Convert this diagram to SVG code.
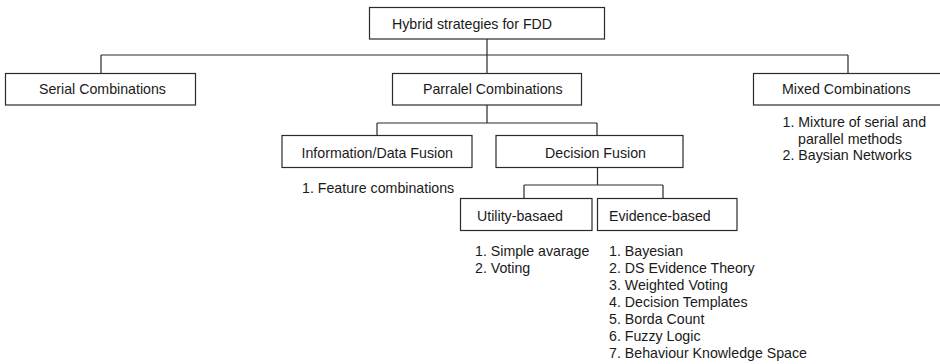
<svg xmlns="http://www.w3.org/2000/svg" width="940" height="364" viewBox="0 0 940 364">
<style>
  .box { fill: #ffffff; stroke: #2a2a2a; stroke-width: 1.2; }
  .lbl { font-family: "Liberation Sans", Arial, sans-serif; font-size: 14.2px; fill: #1a1a1a; }
  .conn { fill: none; stroke: #2a2a2a; stroke-width: 1.2; }
</style>
<rect x="0" y="0" width="940" height="364" fill="#ffffff"/>
<g id="connectors">
  <path class="conn" d="M487,39 V73 M101,55 H848 M101,55 V73 M848,55 V73"/>
  <path class="conn" d="M487,105 V123 M377,123 H597 M377,123 V136 M597,123 V136"/>
  <path class="conn" d="M597.5,168 V185 M524,185 H663 M524,185 V199 M663,185 V199"/>
</g>
<g id="root">
  <rect class="box" x="369.5" y="7.5" width="235" height="31.5"/>
  <text class="lbl" x="392" y="29">Hybrid strategies for FDD</text>
</g>
<g id="serial">
  <rect class="box" x="5.5" y="73.5" width="190" height="31.5"/>
  <text class="lbl" x="39" y="94">Serial Combinations</text>
</g>
<g id="parallel">
  <rect class="box" x="392.5" y="73.5" width="189" height="31.5"/>
  <text class="lbl" x="423" y="94">Parralel Combinations</text>
</g>
<g id="mixed">
  <rect class="box" x="753.5" y="73.5" width="200" height="31.5"/>
  <text class="lbl" x="782" y="94">Mixed Combinations</text>
  <text class="lbl" x="782.5" y="127">1. Mixture of serial and</text>
  <text class="lbl" x="798" y="144">parallel methods</text>
  <text class="lbl" x="782.5" y="160">2. Baysian Networks</text>
</g>
<g id="info">
  <rect class="box" x="282" y="135.5" width="190" height="32"/>
  <text class="lbl" x="301.5" y="157.5">Information/Data Fusion</text>
  <text class="lbl" x="302" y="193">1. Feature combinations</text>
</g>
<g id="decision">
  <rect class="box" x="496" y="135.5" width="187" height="32"/>
  <text class="lbl" x="545" y="157.5">Decision Fusion</text>
</g>
<g id="utility">
  <rect class="box" x="460.5" y="198.5" width="131.5" height="32"/>
  <text class="lbl" x="477" y="221">Utility-basaed</text>
  <text class="lbl" x="475" y="256">1. Simple avarage</text>
  <text class="lbl" x="475" y="273">2. Voting</text>
</g>
<g id="evidence">
  <rect class="box" x="597.5" y="198.5" width="139.5" height="32"/>
  <text class="lbl" x="609" y="221">Evidence-based</text>
  <text class="lbl" x="609" y="256">1. Bayesian</text>
  <text class="lbl" x="609" y="273">2. DS Evidence Theory</text>
  <text class="lbl" x="609" y="290">3. Weighted Voting</text>
  <text class="lbl" x="609" y="307">4. Decision Templates</text>
  <text class="lbl" x="609" y="324">5. Borda Count</text>
  <text class="lbl" x="609" y="341">6. Fuzzy Logic</text>
  <text class="lbl" x="609" y="358">7. Behaviour Knowledge Space</text>
</g>
</svg>
